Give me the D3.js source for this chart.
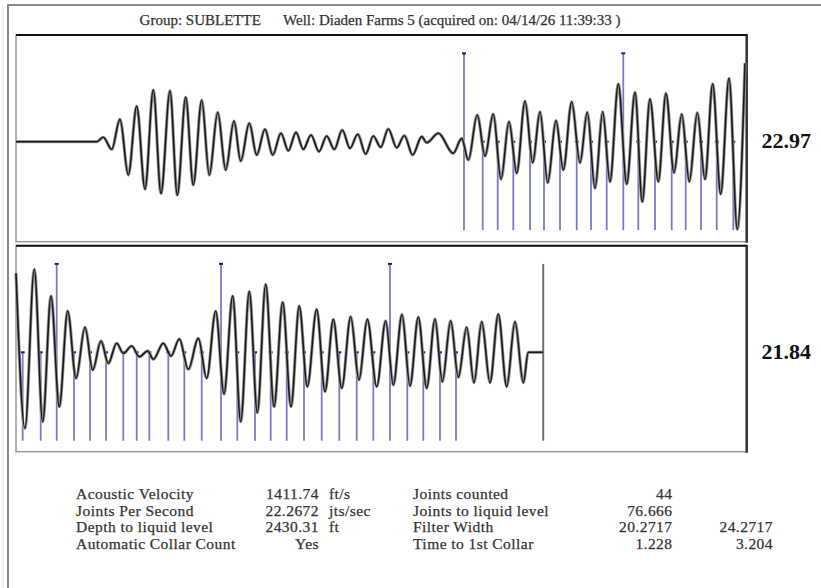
<!DOCTYPE html>
<html>
<head>
<meta charset="utf-8">
<script src="https://cdn.jsdelivr.net/npm/d3@7"></script>
<style>
  html, body { margin: 0; padding: 0; background: #fff; }
  svg { display: block; }
  text { font-family: "Liberation Serif", "Times New Roman", serif; }
</style>
</head>
<body>
<svg id="chart" width="821" height="588"></svg>
<script>
// ---------------- DATA ----------------
const headerText = "Group: SUBLETTE      Well: Diaden Farms 5 (acquired on: 04/14/26 11:39:33 )";

// Acoustic trace, panel 1 (time s, amplitude) – turning points
const traceTop = [
  [0,0],[0.2209,0],[0.2390,0.050],[0.2619,-0.086],[0.2847,0.253],[0.3074,-0.377],
  [0.3304,0.404],[0.3531,-0.538],[0.3758,0.585],[0.3969,-0.584],[0.4215,0.574],
  [0.4415,-0.603],[0.4645,0.502],[0.4853,-0.490],[0.5083,0.472],[0.5291,-0.377],
  [0.5521,0.333],[0.5740,-0.320],[0.5967,0.234],[0.6150,-0.218],[0.6386,0.208],
  [0.6588,-0.150],[0.6815,0.140],[0.7026,-0.150],[0.7253,0.095],[0.7453,-0.102],
  [0.7664,0.106],[0.7864,-0.086],[0.8074,0.076],[0.8293,-0.113],[0.8504,0.064],
  [0.8712,-0.086],[0.8931,0.132],[0.9142,-0.075],[0.9353,0.084],[0.9572,-0.139],
  [0.9780,0.064],[0.9982,-0.063],[1.0190,0.144],[1.0420,-0.068],[1.0628,0.068],
  [1.0858,-0.150],[1.1104,0.057],[1.1241,-0.011],[1.1559,0.095],[1.1969,-0.131],
  [1.2199,0.038],[1.2380,-0.207],[1.2626,0.302],[1.2837,-0.162],[1.3064,0.313],
  [1.3275,-0.425],[1.3494,0.226],[1.3705,-0.357],[1.3932,0.460],[1.4143,-0.238],
  [1.4342,0.339],[1.4553,-0.464],[1.4780,0.238],[1.4980,-0.320],[1.5210,0.452],
  [1.5437,-0.238],[1.5637,0.333],[1.5848,-0.527],[1.6058,0.339],[1.6258,-0.452],
  [1.6486,0.653],[1.6715,-0.479],[1.6943,0.559],[1.7142,-0.679],[1.7353,0.483],
  [1.7580,-0.452],[1.7791,0.548],[1.8010,-0.351],[1.8221,0.313],[1.8429,-0.452],
  [1.8648,0.328],[1.8858,-0.425],[1.9069,0.653],[1.9288,-0.592],[1.9516,0.717],
  [1.9742,-0.991],[1.9953,0.887]
];

// Acoustic trace, panel 2
const traceBottom = [
  [2.0000,0.894],[2.0246,-0.860],[2.0501,0.939],[2.0731,-0.785],[2.0958,0.637],
  [2.1185,-0.615],[2.1415,0.467],[2.1642,-0.294],[2.1889,0.283],[2.2099,-0.200],
  [2.2327,0.128],[2.2526,-0.124],[2.2756,0.102],[2.2937,-0.011],[2.3167,0.071],
  [2.3375,-0.050],[2.3605,0.015],[2.3758,-0.079],[2.4032,0.102],[2.4243,-0.042],
  [2.4470,0.150],[2.4716,-0.192],[2.4990,0.158],[2.5220,-0.294],[2.5466,0.467],
  [2.5693,-0.472],[2.5931,0.637],[2.6150,-0.785],[2.6386,0.686],[2.6605,-0.683],
  [2.6835,0.769],[2.7062,-0.615],[2.7300,0.566],[2.7527,-0.615],[2.7754,0.524],
  [2.7973,-0.389],[2.8230,0.486],[2.8458,-0.446],[2.8685,0.373],[2.8915,-0.407],
  [2.9161,0.403],[2.9388,-0.313],[2.9616,0.373],[2.9873,-0.389],[3.0119,0.357],
  [3.0327,-0.370],[3.0565,0.428],[3.0784,-0.381],[3.1011,0.399],[3.1241,-0.407],
  [3.1468,0.377],[3.1668,-0.333],[3.1898,0.357],[3.2106,-0.283],[3.2336,0.283],
  [3.2536,-0.344],[3.2747,0.346],[3.2974,-0.344],[3.3201,0.433],[3.3431,-0.389],
  [3.3658,0.346],[3.3886,-0.344],[3.4022,0],[3.4430,0]
];

// Collar (joint) picks, seconds
const collarTimes = [
  1.2262,1.2774,1.3185,1.3612,1.4069,1.4452,1.4890,1.5347,1.5738,1.6168,
  1.6622,1.7033,1.7490,1.7947,1.8330,1.8749,1.9179,1.9633,
  2.0183,2.0676,2.1114,2.1588,2.2025,2.2463,2.2937,2.3304,2.3649,2.4169,
  2.4607,2.5083,2.5611,2.6057,2.6542,2.6971,2.7409,2.7883,2.8367,2.8849,
  2.9325,2.9780,3.0237,3.0710,3.1148,3.1605,3.2043
];
const liquidLevelTime = 3.443;

const panelDomains = [[0, 2], [2, 4]];
const panelLabels = ["22.97", "21.84"];

const statLabels1 = ["Acoustic Velocity", "Joints Per Second", "Depth to liquid level", "Automatic Collar Count"];
const statValues1 = ["1411.74", "22.2672", "2430.31", "Yes"];
const statUnits1  = ["ft/s", "jts/sec", "ft", ""];
const statLabels2 = ["Joints counted", "Joints to liquid level", "Filter Width", "Time to 1st Collar"];
const statValues2 = ["44", "76.666", "20.2717", "1.228"];
const statValues3 = ["", "", "24.2717", "3.204"];

// ---------------- LAYOUT ----------------
const svg = d3.select("#chart");
const left = 16, right = 746.7;
const panels = [
  { top: 35, bottom: 241.7, base: 141.7, trace: traceTop },
  { top: 245.7, bottom: 451.7, base: 352.3, trace: traceBottom }
];
const amp = 88.4;

// outer frame
svg.append("line").attr("x1", 7).attr("x2", 821).attr("y1", 5).attr("y2", 5)
  .attr("stroke", "#8a8a8a").attr("stroke-width", 2);
svg.append("line").attr("x1", 8).attr("x2", 8).attr("y1", 5).attr("y2", 588)
  .attr("stroke", "#8a8a8a").attr("stroke-width", 2);
svg.append("line").attr("x1", 3).attr("x2", 3).attr("y1", 5).attr("y2", 588)
  .attr("stroke", "#e2e2e2").attr("stroke-width", 1);

// header
svg.append("text").attr("x", 380).attr("y", 25).attr("text-anchor", "middle")
  .attr("font-size", 15).attr("fill", "#333").attr("stroke", "#333").attr("stroke-width", 0.25)
  .style("white-space", "pre")
  .text(headerText);

panels.forEach((p, i) => {
  const x = d3.scaleLinear().domain(panelDomains[i]).range([left, right]);
  const y = d3.scaleLinear().domain([-1, 1]).range([p.base + amp, p.base - amp]);
  const g = svg.append("g");

  // panel box
  g.append("rect").attr("x", left).attr("y", p.top)
    .attr("width", right - left).attr("height", p.bottom - p.top)
    .attr("fill", "#fff").attr("stroke", "#9a9a9a").attr("stroke-width", 1.5);
  g.append("line").attr("x1", left).attr("x2", right + 1).attr("y1", p.top).attr("y2", p.top)
    .attr("stroke", "#111").attr("stroke-width", 2);
  g.append("line").attr("x1", right).attr("x2", right).attr("y1", p.top).attr("y2", p.bottom + 1)
    .attr("stroke", "#333").attr("stroke-width", 2.5);

  // collars
  const cs = collarTimes.map((t, k) => ({ t, k }))
    .filter(d => d.t >= panelDomains[i][0] && d.t < panelDomains[i][1]);
  g.selectAll(".collar").data(cs).join("line")
    .attr("x1", d => x(d.t)).attr("x2", d => x(d.t))
    .attr("y1", d => d.k % 10 === 0 ? y(1) : y(0))
    .attr("y2", y(-1))
    .attr("stroke", "#7a7acc").attr("stroke-width", 1.8);
  g.selectAll(".tick").data(cs).join("rect")
    .attr("x", d => x(d.t) - 2).attr("width", 4)
    .attr("y", d => (d.k % 10 === 0 ? y(1) : y(0)) - 1).attr("height", 2)
    .attr("fill", "#1c1c7a");

  // liquid level marker
  if (liquidLevelTime >= panelDomains[i][0] && liquidLevelTime < panelDomains[i][1]) {
    g.append("line").attr("x1", x(liquidLevelTime)).attr("x2", x(liquidLevelTime))
      .attr("y1", y(1)).attr("y2", y(-1))
      .attr("stroke", "#707070").attr("stroke-width", 2);
  }

  // trace (soft halo + dark core)
  const line = d3.line().x(d => x(d[0])).y(d => y(d[1])).curve(d3.curveMonotoneX);
  g.append("path").datum(p.trace).attr("d", line)
    .attr("fill", "none").attr("stroke", "#9a9a9a").attr("stroke-width", 3.2)
    .attr("stroke-linejoin", "round");
  g.append("path").datum(p.trace).attr("d", line)
    .attr("fill", "none").attr("stroke", "#1a1a1a").attr("stroke-width", 1.6)
    .attr("stroke-linejoin", "round");

  // label
  svg.append("text").attr("x", 761.5).attr("y", p.base + 6.5)
    .attr("font-size", 22).attr("font-weight", "bold").attr("fill", "#111")
    .text(panelLabels[i]);
});

// stats table
const rowY = d3.range(statLabels1.length).map(r => 499 + r * 16.5);
const fs = 15.5;
const tbl = svg.append("g").attr("fill", "#333").attr("stroke", "#333").attr("stroke-width", 0.25)
  .attr("font-size", fs).attr("letter-spacing", 0.45);
statLabels1.forEach((s, r) => {
  tbl.append("text").attr("x", 76).attr("y", rowY[r]).text(s);
  tbl.append("text").attr("x", 319).attr("y", rowY[r]).attr("text-anchor", "end").text(statValues1[r]);
  tbl.append("text").attr("x", 329).attr("y", rowY[r]).text(statUnits1[r]);
  tbl.append("text").attr("x", 413).attr("y", rowY[r]).text(statLabels2[r]);
  tbl.append("text").attr("x", 672.5).attr("y", rowY[r]).attr("text-anchor", "end").text(statValues2[r]);
  tbl.append("text").attr("x", 773).attr("y", rowY[r]).attr("text-anchor", "end").text(statValues3[r]);
});
</script>
</body>
</html>
